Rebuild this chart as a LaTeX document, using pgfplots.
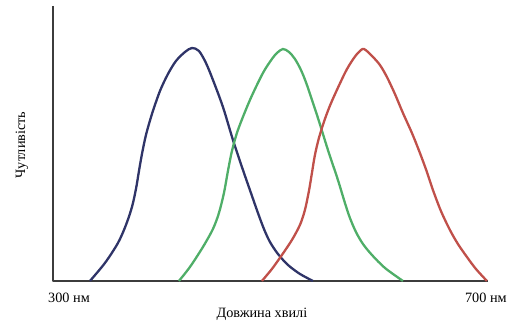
\documentclass[border=0pt]{standalone}
\usepackage{fontspec}
\setmainfont{Liberation Serif}
\usepackage{pgfplots}
\pgfplotsset{compat=1.18}
\definecolor{cblue}{HTML}{2F3468}
\definecolor{cgreen}{HTML}{4FAE68}
\definecolor{cred}{HTML}{C0504A}
\definecolor{axgray}{HTML}{3C3C3C}
\begin{document}
\begin{tikzpicture}
\begin{axis}[
  width=510bp, height=321bp, scale only axis,
  xmin=0, xmax=510, ymin=-40, ymax=281,
  hide axis, clip=false,
]
\path (axis cs:0,-40) rectangle (axis cs:510,281);
\addplot[axgray, line width=2.6bp, line join=round] coordinates {(53,275) (53,0) (488,0)};
\addplot[cblue, line width=2.3bp, smooth, tension=0.5] coordinates {
(90,0) (105,18) (118,38) (126,56) (132,74) (136,92) (139,110) (142,127) (146,146) (152,167) (160,190) (168,207) (176,220) (185,229) (192,233) (199,230) (206,218) (213,201) (223,174) (233,141) (243,111) (251,88) (258,68) (264,52) (270,39) (278,27) (288,16) (300,7) (313,0)};
\addplot[cgreen, line width=2.3bp, smooth, tension=0.5] coordinates {
(179,0) (190,14) (203,34) (213,52) (219,68) (224,88) (228,110) (232,130) (238,151) (250,181) (263,208) (272,222) (277,228) (283,232) (289,229) (295,222) (301,211) (307,196) (318,163) (328,131) (338,101) (345,78) (350,63) (356,49) (363,37) (372,26) (385,13) (403,0)};
\addplot[cred, line width=2.3bp, smooth, tension=0.5] coordinates {
(262,0) (272,12) (282,26) (292,41) (300,56) (305,71) (309,90) (312,108) (315,126) (319,143) (325,162) (332,180) (345,208) (352,220) (358,228) (364,232) (373,224) (380,216) (387,204) (395,187) (403,168) (412,148) (420,128) (427,109) (433,91) (441,70) (450,51) (458,37) (467,24) (476,12) (487,0)};
\node[font=\fontsize{14.3}{16}\selectfont] at (axis cs:69,-17) {300 нм};
\node[font=\fontsize{14.3}{16}\selectfont] at (axis cs:486,-17) {700 нм};
\node[font=\fontsize{14.3}{16}\selectfont] at (axis cs:262,-33) {Довжина хвилі};
\node[font=\fontsize{14.3}{16}\selectfont, rotate=90] at (axis cs:22,136) {Чутливість};
\end{axis}
\end{tikzpicture}
\end{document}
